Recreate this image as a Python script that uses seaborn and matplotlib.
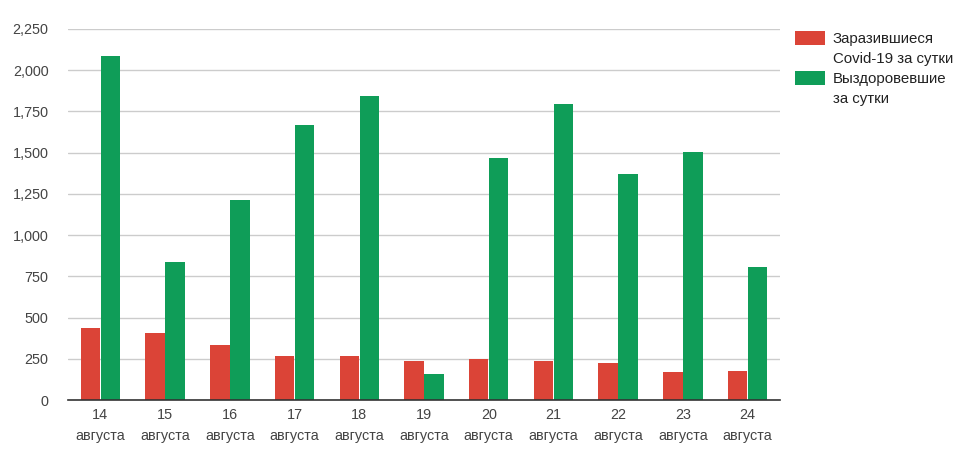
import numpy as np
import pandas as pd
import seaborn as sns
from matplotlib import pyplot as plt
from matplotlib.patches import Patch
from matplotlib.ticker import FuncFormatter

days = ["14", "15", "16", "17", "18", "19", "20", "21", "22", "23", "24"]
month = "августа"
infected = [435, 404, 331, 264, 269, 238, 250, 238, 226, 171, 177]
recovered = [2085, 837, 1215, 1667, 1841, 159, 1470, 1793, 1372, 1506, 805]
series_names = ["Заразившиеся\nCovid-19 за сутки", "Выздоровевшие\nза сутки"]
colors = ["#db4437", "#0f9d58"]

df = pd.DataFrame({
    "day": days * 2,
    "value": infected + recovered,
    "series": [series_names[0]] * len(days) + [series_names[1]] * len(days),
})

sns.set_theme(style="white")
plt.rcParams["font.family"] = ["Liberation Sans", "DejaVu Sans"]

fig = plt.figure(figsize=(9.62, 4.62), dpi=100)
ax = fig.add_axes([68 / 962, 1 - 400 / 462, (780 - 68) / 962, (400 - 29) / 462])

sns.barplot(data=df, x="day", y="value", hue="series", palette=colors,
            width=0.62, gap=0.03, saturation=1, linewidth=0, ax=ax, legend=False)

ax.set_ylim(0, 2250)
ax.set_yticks(np.arange(0, 2251, 250))
ax.yaxis.set_major_formatter(FuncFormatter(lambda v, p: f"{int(v):,}"))
ax.set_xticks(range(len(days)))
ax.set_xticklabels([f"{d}\n{month}" for d in days], linespacing=1.6)
ax.set_xlim(-0.5, len(days) - 0.5)
ax.grid(axis="y", color="#cccccc", linewidth=1)
ax.set_axisbelow(True)
for s in ["left", "right", "top"]:
    ax.spines[s].set_visible(False)
ax.spines["bottom"].set_color("#333333")
ax.spines["bottom"].set_linewidth(1.2)
ax.spines["bottom"].set_zorder(5)
ax.tick_params(axis="both", length=0, labelsize=10.4, labelcolor="#444444")
ax.tick_params(axis="y", pad=14)
ax.tick_params(axis="x", pad=6)
ax.set_xlabel("")
ax.set_ylabel("")

# one legend row per text line, swatch only on the first line of each series
handles, labels = [], []
for name, c in zip(series_names, colors):
    lines = name.split("\n")
    handles.append(Patch(facecolor=c, edgecolor="none"))
    labels.append(lines[0])
    for extra in lines[1:]:
        handles.append(Patch(facecolor="none", edgecolor="none"))
        labels.append(extra)

fig.legend(handles, labels, loc="upper left",
           bbox_to_anchor=(782 / 962, 1 - 17 / 462), frameon=False,
           fontsize=10.8, labelcolor="#222222", handlelength=2.0, handleheight=1.1,
           handletextpad=0.5, labelspacing=0.32)

fig.savefig("out.png", dpi=100)
